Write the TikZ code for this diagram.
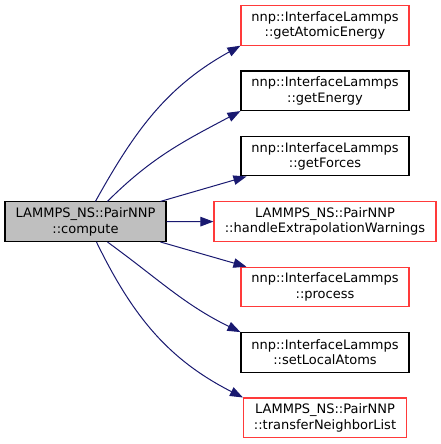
\documentclass[tikz,border=0pt]{standalone}
\usepackage{fontspec}
\setmainfont{DejaVu Sans}
\usetikzlibrary{arrows.meta}
\definecolor{edgeblue}{HTML}{191970}
\definecolor{boxred}{HTML}{FF3A3A}
\definecolor{boxgray}{HTML}{BFBFBF}
\tikzset{
  fn/.style={draw=black, line width=1.1pt, minimum height=39.5pt, inner sep=0pt, align=center, font=\fontsize{13}{15.5}\selectfont},
  fnred/.style={fn, draw=boxred},
  fncur/.style={fn, fill=boxgray},
  call/.style={draw=edgeblue, line width=1pt, -{Triangle[length=13pt,width=9.5pt]}, color=edgeblue}
}
\begin{document}
\begin{tikzpicture}[x=1pt,y=1pt]
\useasboundingbox (0,0) rectangle (441,444);
\node[fncur, minimum width=161pt] (L) at (85.5,222.3) {LAMMPS\_NS::PairNNP\\::compute};
\node[fnred, minimum width=168pt] (N1) at (325,418.6) {nnp::InterfaceLammps\\::getAtomicEnergy};
\node[fn, minimum width=168pt] (N2) at (325,353.2) {nnp::InterfaceLammps\\::getEnergy};
\node[fn, minimum width=168pt] (N3) at (325,287.8) {nnp::InterfaceLammps\\::getForces};
\node[fnred, minimum width=222pt] (N4) at (325,222.4) {LAMMPS\_NS::PairNNP\\::handleExtrapolationWarnings};
\node[fnred, minimum width=168pt] (N5) at (325,157.0) {nnp::InterfaceLammps\\::process};
\node[fn, minimum width=168pt] (N6) at (325,91.6) {nnp::InterfaceLammps\\::setLocalAtoms};
\node[fnred, minimum width=163pt] (N7) at (325,26.2) {LAMMPS\_NS::PairNNP\\::transferNeighborList};
\draw[call] ([xshift=91pt]L.north west) to[out=61,in=209] (N1.south west);
\draw[call] ([xshift=103pt]L.north west) to[out=45,in=208] (N2.south west);
\draw[call] ([xshift=-6pt]L.north east) -- ([xshift=6pt]N3.south west);
\draw[call] (L.east) -- (N4.west);
\draw[call] ([xshift=-6pt]L.south east) -- ([xshift=6pt]N5.north west);
\draw[call] ([xshift=103pt]L.south west) to[out=-36,in=154] (N6.north west);
\draw[call] ([xshift=92pt]L.south west) to[out=-64,in=153] (N7.north west);
\end{tikzpicture}
\end{document}
